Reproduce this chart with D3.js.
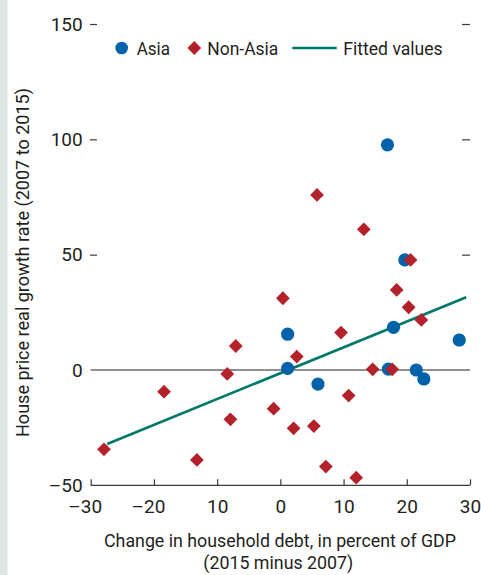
<!DOCTYPE html>
<html>
<head>
<meta charset="utf-8">
<script src="https://cdn.jsdelivr.net/npm/d3@7"></script>
<style>
  html, body { margin: 0; padding: 0; background: #fff; }
  svg { display: block; }
  text { font-family: "Roboto", "Liberation Sans", sans-serif; fill: #231f20; }
</style>
</head>
<body>
<svg id="chart" width="481" height="575"></svg>
<script>
// ---- data ----
const asiaX = [16.95, 19.7, 17.9, 1.15, 28.3, 1.15, 17.1, 21.5, 22.7, 5.95];
const asiaY = [97.6, 47.7, 18.5, 15.5, 13.0, 0.7, 0.4, 0.0, -3.9, -6.1];
const nonAsiaX = [5.8, 13.2, 20.6, 0.4, 18.4, 20.3, 22.3, 9.6, -7.05, 2.6, 14.6, 17.7, -8.4, -18.4, -7.9, -1.06, 2.1, 5.3, -27.9, -13.2, 7.2, 12.0, 10.8];
const nonAsiaY = [75.9, 61.0, 47.7, 31.1, 34.7, 27.2, 21.7, 16.2, 10.4, 5.8, 0.3, 0.3, -1.7, -9.4, -21.4, -16.8, -25.3, -24.3, -34.4, -39.0, -41.9, -46.7, -11.1];
const fitX = [-27.4, 29.4];
const fitY = [-32.1, 31.5];
const xTicks = [-30, -20, -10, 0, 10, 20, 30];
const xTickLabels = ["\u201330", "\u201320", "10", "0", "10", "20", "30"];
const yTicks = [-50, 0, 50, 100, 150];
const yTickLabels = ["\u201350", "0", "50", "100", "150"];
const legendLabels = ["Asia", "Non-Asia", "Fitted values"];
const xTitle = ["Change in household debt, in percent of GDP", "(2015 minus 2007)"];
const yTitle = "House price real growth rate (2007 to 2015)";

// ---- style ----
const BLUE = "#0062a9", RED = "#b3222b", TEAL = "#00786a", AXIS = "#3a3a3a";
const svg = d3.select("#chart");

// left strip
svg.append("rect").attr("x", 0).attr("y", 0).attr("width", 7.5).attr("height", 575).attr("fill", "#dfe7e4");

const x = d3.scaleLinear().domain([-30, 30]).range([90.7, 470]);
const y = d3.scaleLinear().domain([-50, 150]).range([485.3, 24]);

// zero line
svg.append("line").attr("x1", x(-30)).attr("x2", x(30)).attr("y1", y(0)).attr("y2", y(0))
  .attr("stroke", "#6b6b6b").attr("stroke-width", 1.3);

// bottom axis
const xAxis = d3.axisBottom(x).tickValues(xTicks).tickSize(-6).tickFormat((d, i) => xTickLabels[i]);
const gx = svg.append("g").attr("transform", `translate(0,${y(-50)})`).call(xAxis);
gx.select(".domain").attr("d", `M${x(-30)},0H${x(30)}`).attr("stroke", AXIS).attr("stroke-width", 1.2);
gx.selectAll(".tick line").attr("stroke", AXIS).attr("stroke-width", 1.2);
gx.selectAll(".tick text").attr("y", 28).attr("dy", 0).attr("font-size", 19)
  .attr("font-family", "Roboto, sans-serif")
  .attr("fill", "#231f20")
  .attr("dx", (d, i) => xTickLabels[i].startsWith("\u2013") ? -6 : 0);

// left inward ticks
const yLeft = d3.axisRight(y).tickValues(yTicks.filter(v => v > 0)).tickSize(7).tickFormat("");
const gyl = svg.append("g").attr("transform", `translate(${x(-30) - 0.7},0)`).call(yLeft);
gyl.select(".domain").remove();
gyl.selectAll(".tick line").attr("stroke", AXIS).attr("stroke-width", 1.2);

// right inward ticks
const yRight = d3.axisLeft(y).tickValues(yTicks.filter(v => v > 0)).tickSize(8).tickFormat("");
const gyr = svg.append("g").attr("transform", `translate(${x(30)},0)`).call(yRight);
gyr.select(".domain").remove();
gyr.selectAll(".tick line").attr("stroke", AXIS).attr("stroke-width", 1.2);

// y tick labels
svg.append("g").selectAll("text").data(yTicks).join("text")
  .attr("x", 82.7).attr("y", d => y(d)).attr("dy", "0.35em")
  .attr("text-anchor", "end").attr("font-size", 19)
  .text((d, i) => yTickLabels[i]);

// fitted line
const line = d3.line().x(d => x(d[0])).y(d => y(d[1]));
svg.append("path").datum(fitX.map((v, i) => [v, fitY[i]])).attr("d", line)
  .attr("fill", "none").attr("stroke", TEAL).attr("stroke-width", 2.6);

// asia circles
svg.append("g").selectAll("circle").data(asiaX.map((v, i) => [v, asiaY[i]])).join("circle")
  .attr("cx", d => x(d[0])).attr("cy", d => y(d[1])).attr("r", 6.6).attr("fill", BLUE);

// non-asia diamonds (drawn on top)
const diamond = d3.symbol().type(d3.symbolSquare).size(95)();
svg.append("g").selectAll("path").data(nonAsiaX.map((v, i) => [v, nonAsiaY[i]])).join("path")
  .attr("d", diamond)
  .attr("transform", d => `translate(${x(d[0])},${y(d[1])}) rotate(45)`)
  .attr("fill", RED);

// legend
const ly = 48;
svg.append("circle").attr("cx", 121.7).attr("cy", ly).attr("r", 6.3).attr("fill", BLUE);
svg.append("text").attr("x", 136.7).attr("y", ly).attr("dy", "0.35em").attr("font-size", 19)
  .attr("textLength", 33.3).attr("lengthAdjust", "spacingAndGlyphs").text(legendLabels[0]);
svg.append("path").attr("d", diamond).attr("transform", `translate(194.3,${ly}) rotate(45)`).attr("fill", RED);
svg.append("text").attr("x", 207.3).attr("y", ly).attr("dy", "0.35em").attr("font-size", 19)
  .attr("textLength", 71).attr("lengthAdjust", "spacingAndGlyphs").text(legendLabels[1]);
svg.append("line").attr("x1", 292.3).attr("x2", 336.7).attr("y1", ly).attr("y2", ly).attr("stroke", TEAL).attr("stroke-width", 2.6);
svg.append("text").attr("x", 343.3).attr("y", ly).attr("dy", "0.35em").attr("font-size", 19)
  .attr("textLength", 99.4).attr("lengthAdjust", "spacingAndGlyphs").text(legendLabels[2]);

// axis titles
svg.append("text").attr("x", 280).attr("y", 547).attr("text-anchor", "middle").attr("font-size", 19)
  .attr("textLength", 352).attr("lengthAdjust", "spacingAndGlyphs").text(xTitle[0]);
svg.append("text").attr("x", 278.3).attr("y", 569).attr("text-anchor", "middle").attr("font-size", 19)
  .attr("textLength", 150).attr("lengthAdjust", "spacingAndGlyphs").text(xTitle[1]);
svg.append("text").attr("transform", "translate(29,262.5) rotate(-90)").attr("text-anchor", "middle")
  .attr("font-size", 19).attr("textLength", 349).attr("lengthAdjust", "spacingAndGlyphs").text(yTitle);
</script>
</body>
</html>
